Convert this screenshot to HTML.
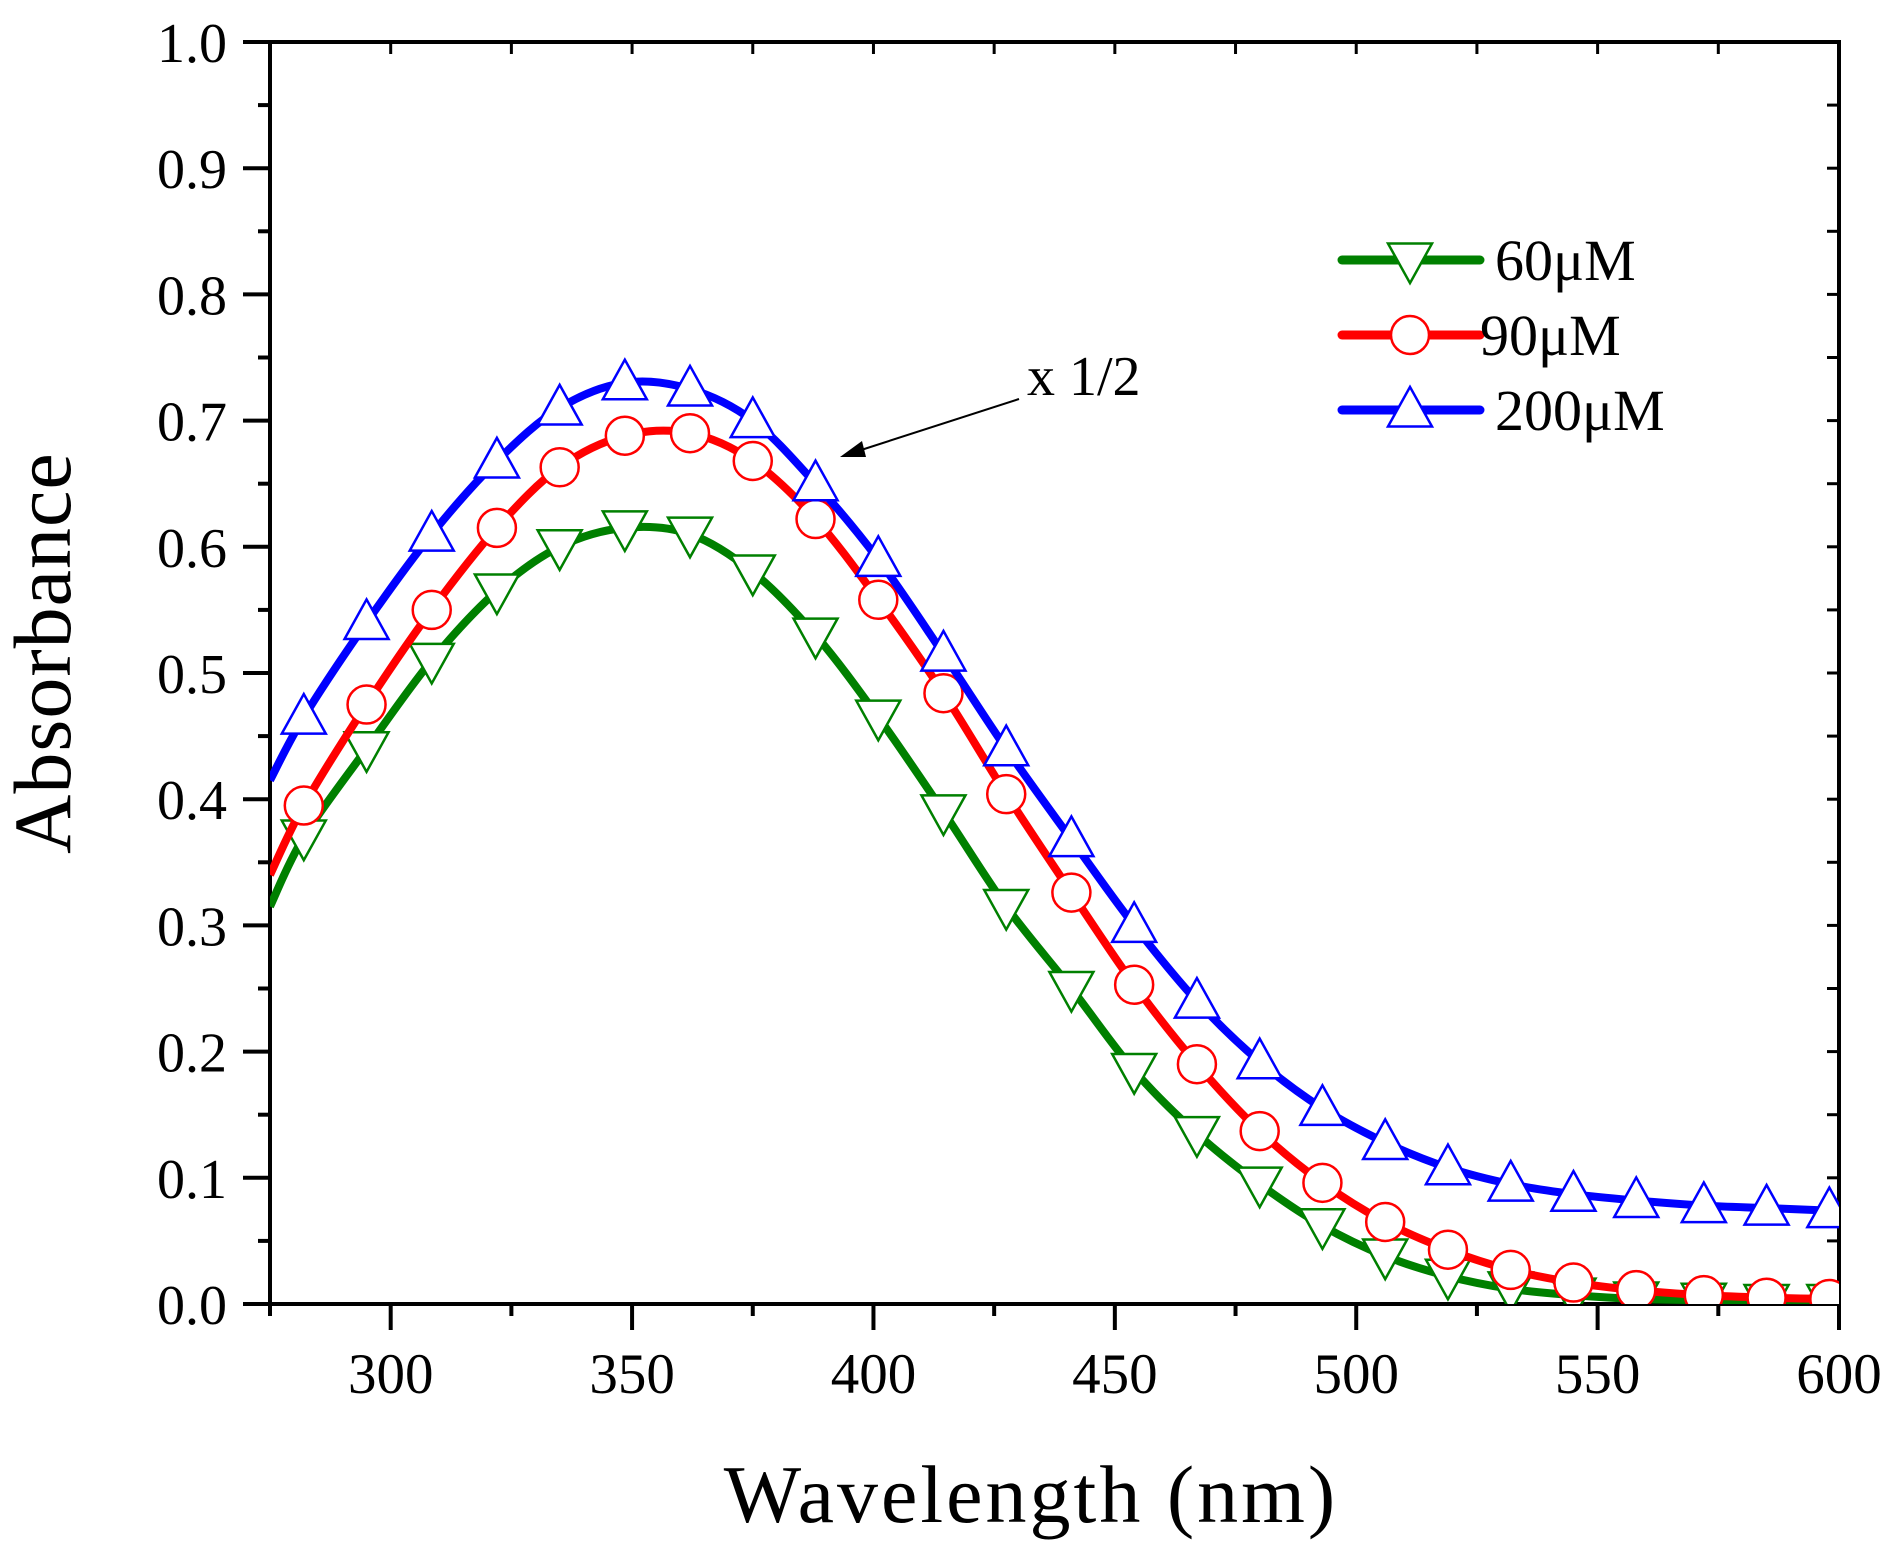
<!DOCTYPE html>
<html><head><meta charset="utf-8"><style>
html,body{margin:0;padding:0;background:#fff;}
svg text{font-family:"Liberation Serif",serif;fill:#000;}
</style></head><body>
<svg id="chart" width="1895" height="1550" viewBox="0 0 1895 1550" xmlns="http://www.w3.org/2000/svg">
<g id="axes"></g>
<g id="series"></g>
<g id="legend"></g>
<text x="1031" y="1522" font-size="82" text-anchor="middle" letter-spacing="3">Wavelength (nm)</text>
<text transform="translate(70,653) rotate(-90)" font-size="82" text-anchor="middle" letter-spacing="1">Absorbance</text>
<text x="1027" y="395" font-size="56">x 1/2</text>
<g>
<line x1="1019" y1="399" x2="858" y2="451" stroke="#000" stroke-width="2"/>
<polygon points="840,457 862,441 866,457" fill="#000"/>
</g>
</svg>
<script>
const wavelengths=[275,282,295,308.5,322,335,348.5,362,375,388,401,414.5,427.5,441,454,467,480,493,506,519,532,545,558,572,585,598];
const green60=[0.315,0.37,0.44,0.51,0.565,0.60,0.615,0.61,0.58,0.53,0.465,0.39,0.315,0.25,0.185,0.135,0.095,0.062,0.038,0.022,0.012,0.007,0.004,0.003,0.002,0.002];
const red90=[0.34,0.395,0.475,0.55,0.615,0.663,0.688,0.69,0.668,0.622,0.558,0.484,0.404,0.326,0.253,0.19,0.137,0.096,0.065,0.043,0.027,0.017,0.011,0.007,0.005,0.004];
const blue200=[0.415,0.465,0.54,0.61,0.668,0.71,0.73,0.725,0.70,0.65,0.59,0.515,0.44,0.368,0.30,0.24,0.192,0.155,0.128,0.108,0.095,0.087,0.082,0.078,0.076,0.074];
const xTicks=[300,350,400,450,500,550,600];
const yTicks=[0,0.1,0.2,0.3,0.4,0.5,0.6,0.7,0.8,0.9,1.0];
const legendLabels=["60μM","90μM","200μM"];

const NS="http://www.w3.org/2000/svg";
const L=270,R=1839,T=42,B=1304,X0=275,X1=600;
const sx=v=>L+(v-X0)/(X1-X0)*(R-L);
const sy=v=>B-v*(B-T);
function mk(tag,attrs,parent){const e=document.createElementNS(NS,tag);for(const k in attrs)e.setAttribute(k,attrs[k]);parent.appendChild(e);return e;}
const axes=document.getElementById('axes');
const series=document.getElementById('series');
const legend=document.getElementById('legend');

for(let v=275;v<=600;v+=25){
  const x=sx(v);const major=v%50===0;
  const t=mk('line',{x1:x,y1:B,x2:x,y2:B+(major?26:12),stroke:'#000','stroke-width':4},axes);
  
  
  const t2=mk('line',{x1:x,y1:T,x2:x,y2:T+12,stroke:'#000','stroke-width':3},axes);
  
  
}
xTicks.forEach(v=>{
  const t=mk('text',{x:sx(v),y:B+89,'font-size':57,'text-anchor':'middle'},axes);t.textContent=v;
  
  
});
for(let i=0;i<=20;i++){
  const v=i*0.05;const y=sy(v);const major=i%2===0;
  const t=mk('line',{x1:L,y1:y,x2:L-(major?27:12),y2:y,stroke:'#000','stroke-width':4},axes);
  
  
  const t2=mk('line',{x1:R,y1:y,x2:R-12,y2:y,stroke:'#000','stroke-width':3},axes);
  
  
}
yTicks.forEach(v=>{
  const t=mk('text',{x:227,y:sy(v)+20,'font-size':56,'text-anchor':'end'},axes);t.textContent=v.toFixed(1);
  
  
});
const frame=mk('rect',{x:L,y:T,width:R-L,height:B-T,fill:'none',stroke:'#000','stroke-width':4},axes);



function smooth(pts){
  let d=`M${pts[0][0]},${pts[0][1]}`;
  for(let i=0;i<pts.length-1;i++){
    const p0=pts[Math.max(0,i-1)],p1=pts[i],p2=pts[i+1],p3=pts[Math.min(pts.length-1,i+2)];
    const c1=[p1[0]+(p2[0]-p0[0])/6,p1[1]+(p2[1]-p0[1])/6];
    const c2=[p2[0]-(p3[0]-p1[0])/6,p2[1]-(p3[1]-p1[1])/6];
    d+=` C${c1[0]},${c1[1]} ${c2[0]},${c2[1]} ${p2[0]},${p2[1]}`;
  }
  return d;
}
function marker(type,x,y,color,parent){
  const s=22;
  if(type==='down') return mk('polygon',{points:`${x-s},${y-s*0.75} ${x+s},${y-s*0.75} ${x},${y+s*1.05}`,fill:'#fff',stroke:color,'stroke-width':2.5},parent);
  if(type==='up') return mk('polygon',{points:`${x-s},${y+s*0.75} ${x+s},${y+s*0.75} ${x},${y-s*1.05}`,fill:'#fff',stroke:color,'stroke-width':2.5},parent);
  return mk('circle',{cx:x,cy:y,r:19,fill:'#fff',stroke:color,'stroke-width':2.5},parent);
}
const defs=[[green60,'#008000','down'],[red90,'#ff0000','circle'],[blue200,'#0000ff','up']];
const clip=mk('clipPath',{id:'pc'},series);
mk('rect',{x:L,y:T,width:R-L,height:B-T},clip);
defs.forEach(([vals,color,type],k)=>{
  const g=mk('g',{'clip-path':'url(#pc)'},series);
  
  
  const pts=wavelengths.map((w,i)=>[sx(w),sy(vals[i])]);
  const p=mk('path',{d:smooth(pts),fill:'none',stroke:color,'stroke-width':8},g);
  
  
  for(let i=1;i<pts.length;i++){
    const m=marker(type,pts[i][0],pts[i][1],color,g);
    
    
  }
  const ly=[260,335,410][k];
  const lg=mk('g',{},legend);
  
  
  mk('line',{x1:1342,y1:ly,x2:1480,y2:ly,stroke:color,'stroke-width':9,'stroke-linecap':'round'},lg);
  marker(type,1410,ly,color,lg);
  const t=mk('text',{x:k===1?1480:1495,y:ly+20,'font-size':58},lg);t.textContent=legendLabels[k];
});
</script>
</body></html>
